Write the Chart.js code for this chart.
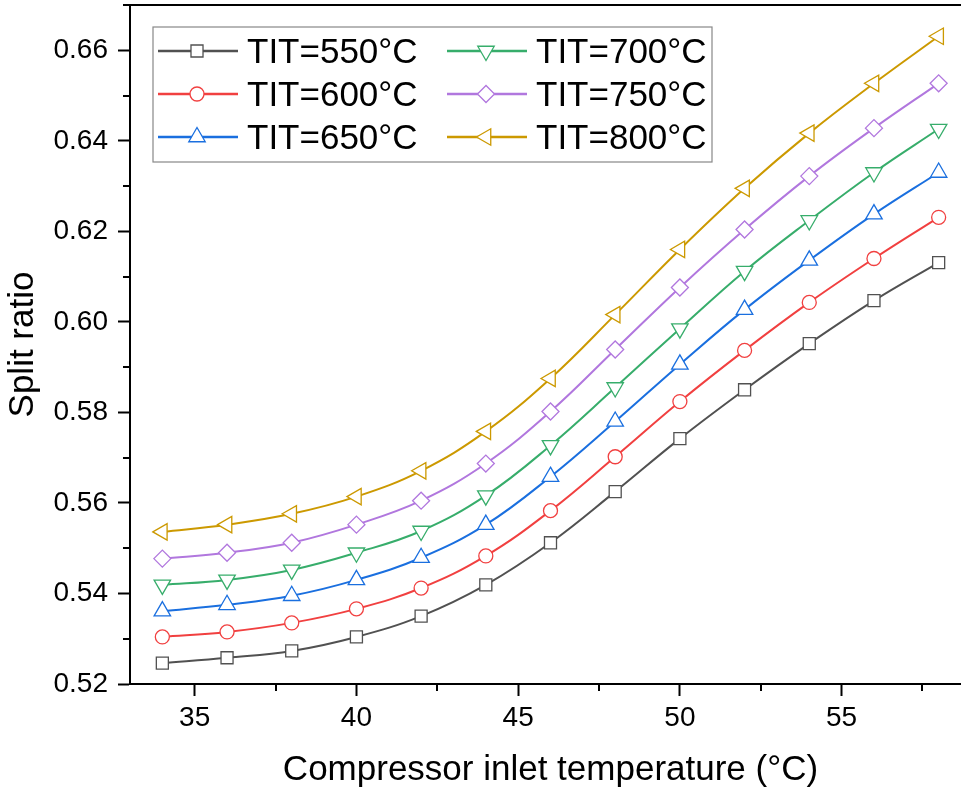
<!DOCTYPE html>
<html>
<head>
<meta charset="utf-8">
<script src="https://cdn.jsdelivr.net/npm/chart.js@4/dist/chart.umd.min.js"></script>
<style>
  html, body { margin: 0; padding: 0; background: #fff; overflow: hidden; }
  #wrap { width: 961px; height: 793px; overflow: hidden; position: relative; }
  canvas { position: absolute; left: 0; top: 0; }
</style>
</head>
<body>
<div id="wrap"><canvas id="chart" width="972" height="793"></canvas></div>
<script>
const FONT = "'Liberation Sans', Arial, sans-serif";

// compressor inlet temperature (°C)
const temps = [34, 36, 38, 40, 42, 44, 46, 48, 50, 52, 54, 56, 58];

// split ratio per turbine inlet temperature
const tit550 = [0.5246, 0.5258, 0.5273, 0.5304, 0.5350, 0.5419, 0.5512, 0.5625, 0.5742, 0.5850, 0.5952, 0.6047, 0.6131];
const tit600 = [0.5304, 0.5315, 0.5335, 0.5366, 0.5412, 0.5483, 0.5583, 0.5702, 0.5824, 0.5937, 0.6043, 0.6140, 0.6231];
const tit650 = [0.5361, 0.5375, 0.5395, 0.5430, 0.5479, 0.5552, 0.5658, 0.5780, 0.5906, 0.6027, 0.6136, 0.6238, 0.6330];
const tit700 = [0.5419, 0.5430, 0.5452, 0.5490, 0.5538, 0.5616, 0.5727, 0.5855, 0.5985, 0.6112, 0.6224, 0.6330, 0.6426];
const tit750 = [0.5477, 0.5490, 0.5512, 0.5552, 0.5605, 0.5687, 0.5802, 0.5939, 0.6076, 0.6204, 0.6322, 0.6428, 0.6527];
const tit800 = [0.5536, 0.5552, 0.5576, 0.5614, 0.5671, 0.5758, 0.5875, 0.6016, 0.6160, 0.6295, 0.6417, 0.6527, 0.6631];

const seriesLabels = ['TIT=550°C', 'TIT=600°C', 'TIT=650°C', 'TIT=700°C', 'TIT=750°C', 'TIT=800°C'];
const seriesValues = [tit550, tit600, tit650, tit700, tit750, tit800];
const lineColors = ['#515151', '#F14040', '#1A6FDF', '#37AD6B', '#B177DE', '#CC9900'];
const markers = [
  {style: 'rect', radius: 8.5, rotation: 0},
  {style: 'circle', radius: 7, rotation: 0},
  {style: 'triangle', radius: 9.5, rotation: 0},
  {style: 'triangle', radius: 9.5, rotation: 180},
  {style: 'rectRot', radius: 8.5, rotation: 0},
  {style: 'triangle', radius: 9.5, rotation: 270},
];

const xTicks = [35, 40, 45, 50, 55];
const yTicks = [0.52, 0.54, 0.56, 0.58, 0.60, 0.62, 0.64, 0.66];

const datasets = seriesValues.map((vals, i) => ({
  label: seriesLabels[i],
  data: temps.map((t, j) => ({x: t, y: vals[j]})),
  borderColor: lineColors[i],
  borderWidth: 2,
  tension: 0.4,
  pointStyle: markers[i].style,
  pointRadius: markers[i].radius,
  pointRotation: markers[i].rotation,
  pointBackgroundColor: '#fff',
  pointBorderColor: lineColors[i],
  pointBorderWidth: 1.3,
}));

// minor ticks and the top frame line
const frame = {
  id: 'frame',
  afterDraw(chart) {
    const {ctx, chartArea: a, scales: {x, y}} = chart;
    ctx.save();
    ctx.strokeStyle = '#000';
    ctx.lineWidth = 2;
    ctx.beginPath();
    ctx.moveTo(a.left - 7, a.top);
    ctx.lineTo(a.right + 1, a.top);
    for (let v = 37.5; v < x.max; v += 5) {
      const px = Math.round(x.getPixelForValue(v));
      ctx.moveTo(px, a.bottom);
      ctx.lineTo(px, a.bottom + 7);
    }
    for (let k = 0; k < 8; k++) {
      const py = Math.round(y.getPixelForValue(0.53 + k * 0.02));
      ctx.moveTo(a.left, py);
      ctx.lineTo(a.left - 7, py);
    }
    ctx.stroke();
    ctx.restore();
  }
};

// legend box: line sample + marker + label, two columns
const legendBox = {
  id: 'legendBox',
  afterDraw(chart) {
    const {ctx} = chart;
    const box = {left: 153, top: 27, right: 712, bottom: 162};
    ctx.save();
    ctx.strokeStyle = '#888';
    ctx.lineWidth = 1.2;
    ctx.strokeRect(box.left, box.top, box.right - box.left, box.bottom - box.top);
    ctx.font = '35px ' + FONT;
    ctx.fillStyle = '#000';
    ctx.textBaseline = 'middle';
    seriesLabels.forEach((lab, i) => {
      const col = Math.floor(i / 3), row = i % 3;
      const x0 = col ? 447 : 158;
      const yy = 51 + row * 43;
      ctx.strokeStyle = lineColors[i];
      ctx.lineWidth = 2.5;
      ctx.beginPath();
      ctx.moveTo(x0, yy);
      ctx.lineTo(x0 + 80, yy);
      ctx.stroke();
      ctx.fillStyle = '#fff';
      ctx.lineWidth = 1.3;
      Chart.helpers.drawPoint(ctx, {
        pointStyle: markers[i].style,
        radius: markers[i].radius,
        rotation: markers[i].rotation,
        borderWidth: 1.3,
      }, x0 + 39, yy);
      ctx.fillStyle = '#000';
      ctx.fillText(lab, x0 + 89, yy + 2);
    });
    ctx.restore();
  }
};

const noPad = s => { s.paddingTop = 0; s.paddingBottom = 0; s.paddingLeft = 0; s.paddingRight = 0; };

new Chart(document.getElementById('chart').getContext('2d'), {
  type: 'line',
  data: {datasets},
  plugins: [frame, legendBox],
  options: {
    responsive: false,
    animation: false,
    devicePixelRatio: 1,
    layout: {autoPadding: false, padding: {left: 0, right: 1, top: 5, bottom: 0}},
    plugins: {legend: {display: false}, tooltip: {enabled: false}},
    scales: {
      x: {
        type: 'linear',
        min: 33,
        max: 59,
        afterBuildTicks: s => { s.ticks = xTicks.map(v => ({value: v})); },
        afterFit: s => { s.height = 109; noPad(s); },
        grid: {display: true, drawOnChartArea: false, tickLength: 12, tickWidth: 2, tickColor: '#000'},
        border: {display: true, color: '#000', width: 2},
        ticks: {color: '#000', font: {family: FONT, size: 28}, padding: 5, maxRotation: 0,
          callback: v => String(v)},
        title: {display: true, text: 'Compressor inlet temperature (°C)', color: '#000',
          font: {family: FONT, size: 35}, padding: {top: 0, bottom: 2}},
      },
      y: {
        type: 'linear',
        min: 0.52,
        max: 0.67,
        afterBuildTicks: s => { s.ticks = yTicks.map(v => ({value: v})); },
        afterFit: s => { s.width = 130; noPad(s); },
        grid: {display: true, drawOnChartArea: false, tickLength: 12, tickWidth: 2, tickColor: '#000'},
        border: {display: true, color: '#000', width: 2},
        ticks: {color: '#000', font: {family: FONT, size: 28}, padding: 10,
          callback: v => v.toFixed(2)},
        title: {display: true, text: 'Split ratio', color: '#000',
          font: {family: FONT, size: 35}, padding: {top: 2, bottom: 0}},
      },
    },
  },
});
</script>
</body>
</html>
